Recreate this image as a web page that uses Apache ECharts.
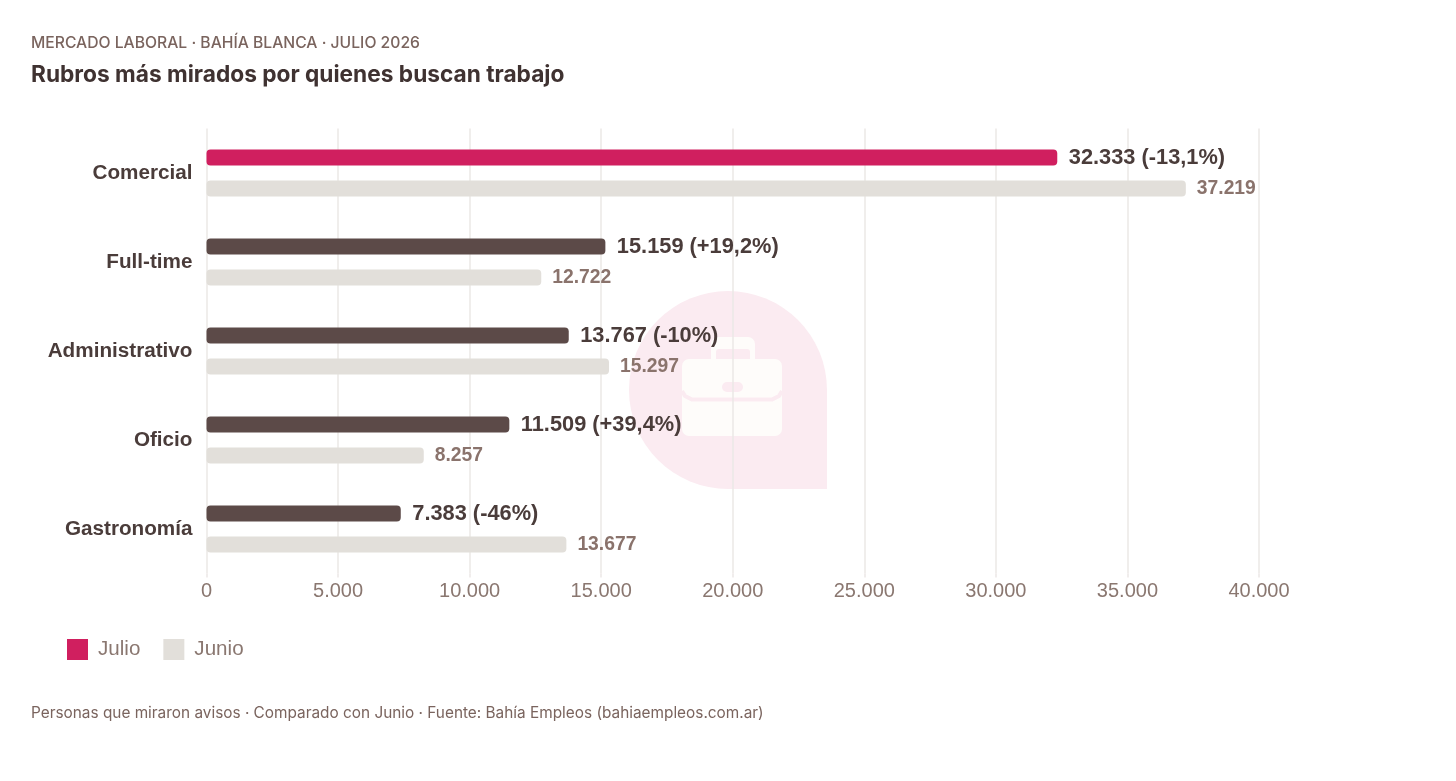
<!DOCTYPE html>
<html>
<head>
<meta charset="utf-8">
<style>html,body{margin:0;padding:0;background:#fff}#c{width:1456px;height:781px}</style>
<script src="https://cdn.jsdelivr.net/npm/echarts@6/dist/echarts.min.js"></script>
</head>
<body>
<div id="c"></div>
<script>
const categories = ['Comercial','Full-time','Administrativo','Oficio','Gastronomía'];
const julio = [32333,15159,13767,11509,7383];
const junio = [37219,12722,15297,8257,13677];
const variacion = ['-13,1%','+19,2%','-10%','+39,4%','-46%'];
const tickLabelStep = 5000;

const fmt = v => String(v).replace(/\B(?=(\d{3})+(?!\d))/g,'.');
const WM = '#fbebf1', BC = '#fefcfa', GRID = '#ebe8e6';
const chart = echarts.init(document.getElementById('c'), null, {renderer:'canvas'});
chart.setOption({
  animation:false,
  backgroundColor:'#fff',
  title:[
    {text:'MERCADO LABORAL · BAHÍA BLANCA · JULIO 2026',left:31,top:35,padding:0,
     textStyle:{fontFamily:'Inter',fontSize:15.7,fontWeight:500,color:'#7a645e',lineHeight:17}},
    {text:'Rubros más mirados por quienes buscan trabajo',left:31,top:62,padding:0,
     textStyle:{fontFamily:'Inter',fontSize:22.7,fontWeight:700,color:'#3f3231',lineHeight:27}},
    {text:'Personas que miraron avisos · Comparado con Junio · Fuente: Bahía Empleos (bahiaempleos.com.ar)',left:31,top:705,padding:0,
     textStyle:{fontFamily:'Inter',fontSize:15.37,fontWeight:400,color:'#7a645e',lineHeight:17}}
  ],
  grid:{left:206.5,top:128.5,width:1052.5,height:445,containLabel:false},
  legend:{left:67,top:639,itemWidth:21,itemHeight:21,itemGap:23,icon:'rect',padding:0,
    data:['Julio','Junio'],
    textStyle:{fontFamily:'Liberation Sans',fontSize:20.6,color:'#8a7770',padding:[0,0,0,5]}},
  xAxis:{type:'value',min:0,max:40000,interval:tickLabelStep,
    axisLine:{show:false},
    axisTick:{show:true,length:4,lineStyle:{color:GRID,width:1.5}},
    splitLine:{show:true,lineStyle:{color:GRID,width:1.5}},
    axisLabel:{margin:8,fontFamily:'Liberation Sans',fontSize:20,color:'#8a7770',formatter:fmt}},
  yAxis:{type:'category',inverse:true,data:categories,
    axisLine:{show:false},axisTick:{show:false},
    axisLabel:{margin:14,fontFamily:'Liberation Sans',fontSize:20.7,fontWeight:'bold',color:'#4a3c3a'}},
  graphic:[{type:'group',z:-10,silent:true,children:[
    {type:'circle',z:-10,shape:{cx:728,cy:390,r:99},style:{fill:WM}},
    {type:'rect',z:-10,shape:{x:728,y:390,width:99,height:99},style:{fill:WM}},
    {type:'rect',z:-9,shape:{x:711,y:337,width:44,height:30,r:[7,7,0,0]},style:{fill:BC}},
    {type:'rect',z:-9,shape:{x:716,y:349,width:34,height:12,r:[3,3,0,0]},style:{fill:WM}},
    {type:'rect',z:-8,shape:{x:682,y:359,width:100,height:77,r:7},style:{fill:BC}},
    {type:'polyline',z:-7,shape:{points:[[682,391],[685,396],[692,399.5],[772,399.5],[779,396],[782,391]]},style:{stroke:WM,lineWidth:4,fill:'none'}},
    {type:'rect',z:-7,shape:{x:722,y:382,width:21,height:10,r:5},style:{fill:WM}}
  ]}],
  series:[
    {name:'Julio',type:'bar',barWidth:16,barGap:'94%',z:3,
     itemStyle:{color:'#d01f5f',borderRadius:4},
     data:julio.map((v,i)=>({value:v,itemStyle:{color:i===0?'#d01f5f':'#5c4a48'}})),
     label:{show:true,position:'right',distance:11.5,offset:[0,1],fontFamily:'Liberation Sans',fontSize:21.8,fontWeight:'bold',color:'#4a3c3a',
       formatter:p=>fmt(p.value)+' ('+variacion[p.dataIndex]+')'}},
    {name:'Junio',type:'bar',barWidth:16,z:3,
     itemStyle:{color:'#e2dfda',borderRadius:4},
     data:junio,
     label:{show:true,position:'right',distance:11,offset:[0,0],fontFamily:'Liberation Sans',fontSize:19.3,fontWeight:'bold',color:'#8a736c',
       formatter:p=>fmt(p.value)}}
  ]
});
</script>
</body>
</html>
